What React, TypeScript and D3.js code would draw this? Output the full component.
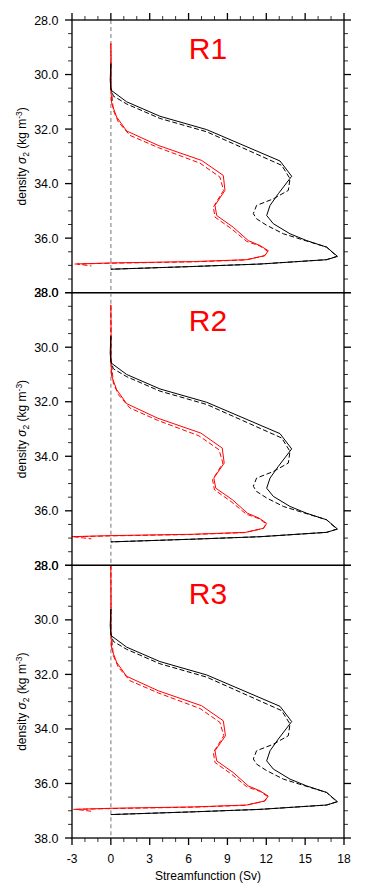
import * as d3 from 'd3';

// streamfunction (Sv) vs density sigma2 as [Sv, sigma2]
const blackSolid: [number, number][] = [
  [0, 29.6], [-0.05, 30.2], [0, 30.57], [1.22, 31.0], [3.79, 31.53], [7.4, 32.02],
  [13.06, 33.17], [13.96, 33.73], [12.93, 34.37], [12.29, 34.8], [12.03, 35.17],
  [12.54, 35.47], [13.83, 35.84], [15.12, 36.09], [16.66, 36.33], [17.5, 36.67],
  [16.66, 36.79], [11.51, 36.95], [6.36, 37.04], [0, 37.14],
];
const blackDashed: [number, number][] = [
  [0, 29.6], [0, 30.5], [0.19, 30.79], [1.22, 31.08], [3.79, 31.61], [7.4, 32.1],
  [13.19, 33.33], [13.83, 33.82], [13.7, 34.25], [12.54, 34.56], [11.25, 34.8],
  [11.0, 35.1], [11.25, 35.29], [12.03, 35.53], [13.32, 35.84], [14.6, 36.03],
  [16.66, 36.33], [17.44, 36.67], [16.66, 36.79], [11.51, 36.95], [6.36, 37.04], [0, 37.14],
];

const r1RedSolid: [number, number][] = [
  [0, 28.86], [0.02, 29.5], [0, 30.3], [0.06, 31.06], [0.45, 31.56], [1.22, 32.07],
  [3.66, 32.6], [7.01, 33.15], [8.68, 33.7], [8.81, 34.25], [8.04, 34.8], [8.17, 35.17],
  [9.45, 35.6], [10.61, 36.09], [11.51, 36.27], [12.15, 36.46], [11.9, 36.64],
  [10.49, 36.79], [6.36, 36.86], [0, 36.91], [-2.8, 36.95],
];
const r1RedDashed: [number, number][] = [
  [0, 28.86], [0, 30.3], [0.19, 31.31], [0.58, 31.74], [1.47, 32.23], [3.66, 32.68],
  [6.88, 33.25], [8.42, 33.76], [8.7, 34.25], [7.91, 34.86], [8.04, 35.23], [9.32, 35.66],
  [10.49, 36.12], [11.51, 36.29], [12.1, 36.48], [11.85, 36.65], [10.4, 36.8],
  [6.3, 36.87], [0, 36.92], [-2.6, 36.95], [-1.5, 37.02],
];

const r2RedSolid: [number, number][] = [
  [0, 28.45], [0.02, 29.5], [0, 30.3], [0.06, 31.06], [0.45, 31.56], [1.22, 32.07],
  [3.6, 32.6], [6.95, 33.15], [8.6, 33.7], [8.75, 34.25], [7.95, 34.8], [8.1, 35.17],
  [9.4, 35.6], [10.55, 36.09], [11.45, 36.27], [12.03, 36.46], [11.8, 36.64],
  [10.4, 36.79], [6.3, 36.86], [0, 36.91], [-3.1, 36.95],
];
const r2RedDashed: [number, number][] = [
  [0, 28.45], [0, 30.3], [0.19, 31.31], [0.58, 31.74], [1.47, 32.23], [3.6, 32.68],
  [6.8, 33.25], [8.35, 33.76], [8.65, 34.25], [7.85, 34.86], [8.0, 35.23], [9.28, 35.66],
  [10.45, 36.12], [11.45, 36.29], [12.0, 36.48], [11.75, 36.65], [10.3, 36.8],
  [6.2, 36.87], [0, 36.92], [-2.9, 36.95], [-1.5, 37.03],
];

const r3RedSolid: [number, number][] = [
  [0, 28.0], [0.02, 29.5], [0, 30.3], [0.06, 31.06], [0.45, 31.56], [1.22, 32.07],
  [3.66, 32.6], [7.01, 33.15], [8.68, 33.7], [8.85, 34.25], [8.04, 34.8], [8.17, 35.17],
  [9.45, 35.6], [10.61, 36.09], [11.51, 36.27], [12.15, 36.46], [11.9, 36.64],
  [10.49, 36.79], [6.36, 36.86], [0, 36.91], [-2.9, 36.95],
];
const r3RedDashed: [number, number][] = [
  [0, 28.0], [0, 30.3], [0.19, 31.31], [0.58, 31.74], [1.47, 32.23], [3.66, 32.68],
  [6.88, 33.25], [8.42, 33.76], [8.72, 34.25], [7.91, 34.86], [8.04, 35.23], [9.32, 35.66],
  [10.49, 36.12], [11.51, 36.29], [12.1, 36.48], [11.85, 36.65], [10.4, 36.8],
  [6.3, 36.87], [0, 36.92], [-2.7, 36.95], [-1.5, 37.02],
];

const panelNames = ['R1', 'R2', 'R3'];
const panelRed = [
  [r1RedSolid, r1RedDashed],
  [r2RedSolid, r2RedDashed],
  [r3RedSolid, r3RedDashed],
];

const sigmaTicks = [28, 30, 32, 34, 36, 38];
const sigmaLabels = ['28.0', '30.0', '32.0', '34.0', '36.0', '38.0'];
const svTicks = [-3, 0, 3, 6, 9, 12, 15, 18];
const svLabels = ['-3', '0', '3', '6', '9', '12', '15', '18'];

const FONT = '"Liberation Sans", Arial, Helvetica, sans-serif';

export default function App() {
  const width = 365;
  const height = 895;
  const left = 72;
  const right = 344;
  const top0 = 20;
  const panelH = 272.67;

  const x = d3.scaleLinear().domain([-3, 18]).range([left, right]);
  const sigmaMinor = d3.range(28.5, 38, 0.5).filter((d) => d % 2 !== 0);
  const svMinor = d3.range(-3, 18.01, 1).filter((d) => (d + 3) % 3 !== 0);
  const bottom = top0 + panelH * 3;

  return (
    <svg width={width} height={height} style={{ position: 'absolute', left: 0, top: 0 }} fontFamily={FONT}>
      <rect width={width} height={height} fill="#fff" />
      {panelNames.map((name, i) => {
        const top = top0 + panelH * i;
        const y = d3.scaleLinear().domain([28, 38]).range([top, top + panelH]);
        const line = d3.line<[number, number]>().x((d) => x(d[0])).y((d) => y(d[1]));
        const [redSolid, redDashed] = panelRed[i];
        return (
          <g key={name}>
            <defs>
              <clipPath id={`clip${i}`}>
                <rect x={left} y={top} width={right - left} height={panelH} />
              </clipPath>
            </defs>
            <line x1={x(0)} x2={x(0)} y1={top} y2={top + panelH} stroke="#aaa" strokeWidth={1.6} strokeDasharray="4 3" />
            <g clipPath={`url(#clip${i})`} fill="none" strokeWidth={1}>
              <path d={line(redDashed) ?? ''} stroke="#ff0000" strokeDasharray="5 2.5" />
              <path d={line(redSolid) ?? ''} stroke="#ff0000" />
              <path d={line(blackDashed) ?? ''} stroke="#000" strokeDasharray="5 2.5" />
              <path d={line(blackSolid) ?? ''} stroke="#000" />
            </g>
            <rect x={left} y={top} width={right - left} height={panelH} fill="none" stroke="#000" strokeWidth={1.3} />
            {sigmaTicks.map((t) => (
              <g key={`M${t}`}>
                <line x1={left - 7} x2={left} y1={y(t)} y2={y(t)} stroke="#000" strokeWidth={1.3} />
                <line x1={right} x2={right + 7} y1={y(t)} y2={y(t)} stroke="#000" strokeWidth={1.3} />
              </g>
            ))}
            {sigmaMinor.map((t) => (
              <g key={`m${t}`}>
                <line x1={left - 4} x2={left} y1={y(t)} y2={y(t)} stroke="#000" strokeWidth={0.8} />
                <line x1={right} x2={right + 4} y1={y(t)} y2={y(t)} stroke="#000" strokeWidth={0.8} />
              </g>
            ))}
            {sigmaTicks.map((t, k) => (
              <text key={`L${t}`} x={58.5} y={y(t)} dy="0.36em" textAnchor="end" fontSize={12.5}>
                {sigmaLabels[k]}
              </text>
            ))}
            <text transform={`translate(26, ${top + panelH / 2}) rotate(-90)`} textAnchor="middle" fontSize={12}>
              density <tspan fontStyle="italic">σ</tspan>
              <tspan dy={3} fontSize={8.5}>2</tspan>
              <tspan dy={-3}> (kg m</tspan>
              <tspan dy={-4.5} fontSize={8.5}>-3</tspan>
              <tspan dy={4.5}>)</tspan>
            </text>
            <text x={(left + right) / 2} y={top + 38.5} textAnchor="middle" fontSize={30} fill="#ff0000">
              {name}
            </text>
          </g>
        );
      })}
      {svTicks.map((t) => (
        <g key={`xt${t}`}>
          <line x1={x(t)} x2={x(t)} y1={top0 - 7} y2={top0} stroke="#000" strokeWidth={1.3} />
          <line x1={x(t)} x2={x(t)} y1={bottom} y2={bottom + 7} stroke="#000" strokeWidth={1.3} />
        </g>
      ))}
      {svMinor.map((t) => (
        <g key={`xm${t}`}>
          <line x1={x(t)} x2={x(t)} y1={top0 - 4} y2={top0} stroke="#000" strokeWidth={0.8} />
          <line x1={x(t)} x2={x(t)} y1={bottom} y2={bottom + 4} stroke="#000" strokeWidth={0.8} />
        </g>
      ))}
      {svTicks.map((t, k) => (
        <text key={`xl${t}`} x={x(t)} y={863} textAnchor="middle" fontSize={12}>
          {svLabels[k]}
        </text>
      ))}
      <text x={(left + right) / 2} y={880} textAnchor="middle" fontSize={12}>
        Streamfunction (Sv)
      </text>
    </svg>
  );
}
